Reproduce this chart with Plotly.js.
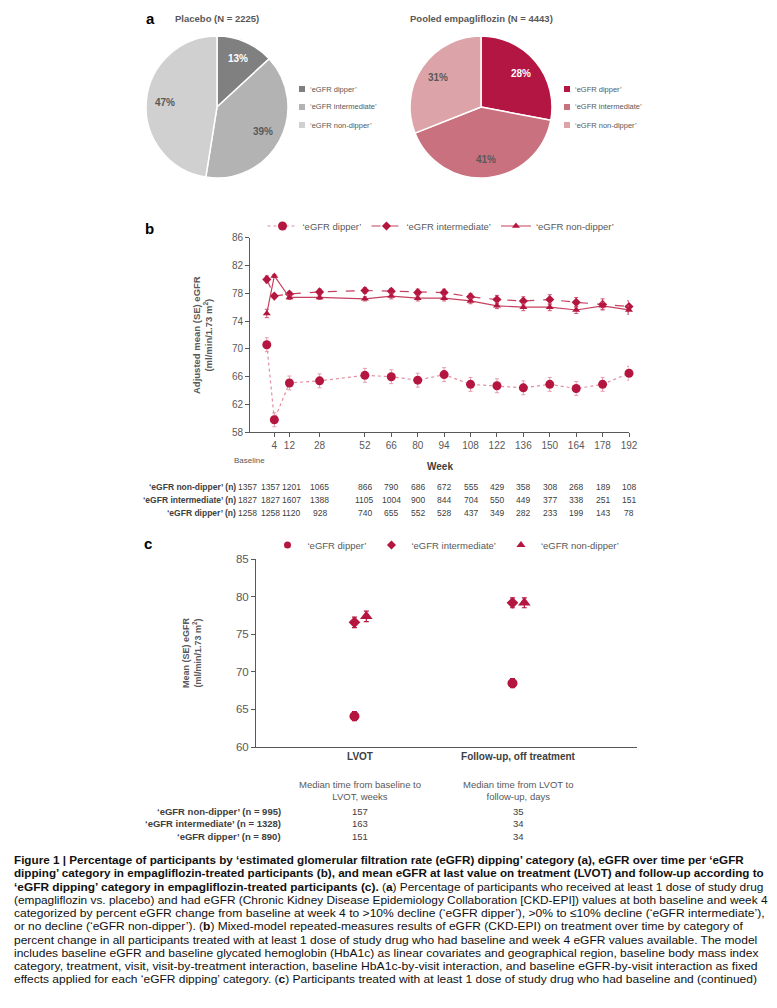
<!DOCTYPE html>
<html>
<head>
<meta charset="utf-8">
<script src="https://cdn.plot.ly/plotly-3.0.1.min.js"></script>
<style>
  html, body { margin: 0; padding: 0; background: #ffffff; }
  #chart { width: 777px; height: 1008px; }
</style>
</head>
<body>
<div id="chart"></div>
<script>
// ---------------- DATA ----------------
const pieLabels = ["‘eGFR dipper’", "‘eGFR intermediate’", "‘eGFR non-dipper’"];
const placeboPct = [13, 39, 47];
const empaPct = [28, 41, 31];
const placeboTitle = "Placebo (N = 2225)";
const empaTitle = "Pooled empagliflozin (N = 4443)";

const weeks = [0, 4, 12, 28, 52, 66, 80, 94, 108, 122, 136, 150, 164, 178, 192];
const weekTickLabels = ["4", "12", "28", "52", "66", "80", "94", "108", "122", "136", "150", "164", "178", "192"];
const dipperMean = [70.6, 59.8, 65.1, 65.4, 66.2, 66.0, 65.5, 66.3, 64.9, 64.7, 64.4, 64.9, 64.3, 64.9, 66.5];
const dipperSE   = [1.0, 1.0, 1.0, 1.0, 1.0, 1.0, 1.0, 1.0, 1.0, 1.0, 1.0, 1.0, 1.0, 1.0, 1.0];
const interMean  = [80.0, 77.6, 77.9, 78.2, 78.4, 78.3, 78.1, 78.1, 77.5, 77.1, 76.9, 77.1, 76.7, 76.4, 76.1];
const interSE    = [0.5, 0.2, 0.3, 0.4, 0.4, 0.4, 0.5, 0.5, 0.5, 0.6, 0.6, 0.7, 0.7, 0.8, 0.8];
const nonMean    = [75.1, 80.5, 77.4, 77.4, 77.2, 77.6, 77.3, 77.3, 76.9, 76.2, 76.0, 76.0, 75.6, 76.2, 75.6];
const nonSE      = [0.6, 0.2, 0.3, 0.3, 0.3, 0.4, 0.4, 0.4, 0.4, 0.4, 0.5, 0.5, 0.5, 0.5, 0.6];

const tableBRowLabels = ["‘eGFR non-dipper’ (n)", "‘eGFR intermediate’ (n)", "‘eGFR dipper’ (n)"];
const nonN   = [1357, 1357, 1201, 1065, 866, 790, 686, 672, 555, 429, 358, 308, 268, 189, 108];
const interN = [1827, 1827, 1607, 1388, 1105, 1004, 900, 844, 704, 550, 449, 377, 338, 251, 151];
const dipN   = [1258, 1258, 1120, 928, 740, 655, 552, 528, 437, 349, 282, 233, 199, 143, 78];

const cCategories = ["LVOT", "Follow-up, off treatment"];
const cDipper = [64.1, 68.5];
const cDipperSE = [0.6, 0.6];
const cInter = [76.6, 79.2];
const cInterSE = [0.7, 0.65];
const cNon = [77.4, 79.2];
const cNonSE = [0.7, 0.65];

const tableCHeaders = ["Median time from baseline to<br>LVOT, weeks", "Median time from LVOT to<br>follow-up, days"];
const tableCRowLabels = ["‘eGFR non-dipper’ (n = 995)", "‘eGFR intermediate’ (n = 1328)", "‘eGFR dipper’ (n = 890)"];
const weeksToLVOT = [157, 163, 151];
const daysToFollowUp = [35, 34, 34];

const captionLines = [
  "<b>Figure 1 | Percentage of participants by ‘estimated glomerular filtration rate (eGFR) dipping’ category (a), eGFR over time per ‘eGFR</b>",
  "<b>dipping’ category in empagliflozin-treated participants (b), and mean eGFR at last value on treatment (LVOT) and follow-up according to</b>",
  "<b>‘eGFR dipping’ category in empagliflozin-treated participants (c).</b> (<b>a</b>) Percentage of participants who received at least 1 dose of study drug",
  "(empagliflozin vs. placebo) and had eGFR (Chronic Kidney Disease Epidemiology Collaboration [CKD-EPI]) values at both baseline and week 4",
  "categorized by percent eGFR change from baseline at week 4 to &gt;10% decline (‘eGFR dipper’), &gt;0% to ≤10% decline (‘eGFR intermediate’),",
  "or no decline (‘eGFR non-dipper’). (<b>b</b>) Mixed-model repeated-measures results of eGFR (CKD-EPI) on treatment over time by category of",
  "percent change in all participants treated with at least 1 dose of study drug who had baseline and week 4 eGFR values available. The model",
  "includes baseline eGFR and baseline glycated hemoglobin (HbA1c) as linear covariates and geographical region, baseline body mass index",
  "category, treatment, visit, visit-by-treatment interaction, baseline HbA1c-by-visit interaction, and baseline eGFR-by-visit interaction as fixed",
  "effects applied for each ‘eGFR dipping’ category. (<b>c</b>) Participants treated with at least 1 dose of study drug who had baseline and (continued)"
];

// ---------------- STYLE ----------------
const W = 777, H = 1008;
const X = px => px / W;
const Y = py => 1 - py / H;
const FONT = "Liberation Sans, Arial, sans-serif";
const CAPFONT = "Liberation Sans, Arial, sans-serif";
const GREY = "#595959";
const DARK = "#404040";
const CRIMSON = "#b5163f";
const placeboColors = ["#808080", "#b3b3b3", "#d0d0d0"];
const empaColors = ["#b31642", "#c9717e", "#dca4a8"];
const pieTextColors = ["#ffffff", GREY, GREY];
const PIE_R = 71, PIE_CY = 107, PIE_LABEL_R = 0.74;
const captionWidths = [731, 750, 750, 754, 751, 730, 744, 745, 744, 744];
const tableBColShift = [-19, -4, 2, 0, 0, 0, 0, 0, 0, 0, 0, 0, 0, 0, 0];

// ---------------- TRACES ----------------
const traces = [];
function pieTrace(vals, colors, cx) {
  return {
    type: "pie", values: vals, labels: pieLabels,
    textinfo: "none",
    sort: false, direction: "clockwise", rotation: 0,
    marker: { colors: colors, line: { color: "#ffffff", width: 1.5 } },
    domain: { x: [X(cx - PIE_R), X(cx + PIE_R)], y: [Y(PIE_CY + PIE_R), Y(PIE_CY - PIE_R)] },
    showlegend: false, hoverinfo: "none"
  };
}
traces.push(pieTrace(placeboPct, placeboColors, 217));
traces.push(pieTrace(empaPct, empaColors, 481));

// Panel b
traces.push({
  type: "scatter", mode: "lines+markers", x: weeks, y: dipperMean, name: "‘eGFR dipper’",
  xaxis: "x", yaxis: "y", legend: "legend",
  line: { color: "#e08ea1", width: 1.2, dash: "dot" },
  marker: { color: CRIMSON, size: 9, symbol: "circle" },
  error_y: { type: "data", array: dipperSE, visible: true, color: "#e59cad", thickness: 1, width: 2 },
  cliponaxis: false
});
traces.push({
  type: "scatter", mode: "lines+markers", x: weeks, y: interMean, name: "‘eGFR intermediate’",
  xaxis: "x", yaxis: "y", legend: "legend",
  line: { color: "#c6405f", width: 1.2, dash: "dash" },
  marker: { color: CRIMSON, size: 7, symbol: "diamond" },
  error_y: { type: "data", array: interSE, visible: true, color: "#cc5571", thickness: 1, width: 2 },
  cliponaxis: false
});
traces.push({
  type: "scatter", mode: "lines+markers", x: weeks, y: nonMean, name: "‘eGFR non-dipper’",
  xaxis: "x", yaxis: "y", legend: "legend",
  line: { color: "#c6405f", width: 1.2, dash: "solid" },
  marker: { color: CRIMSON, size: 7, symbol: "triangle-up" },
  error_y: { type: "data", array: nonSE, visible: true, color: "#cc5571", thickness: 1, width: 2 },
  cliponaxis: false
});

// Panel c
const catPos = cCategories.map((c, i) => i + 1);
const offLeft = -0.035, offRight = 0.04;
const cSeries = [
  { name: "‘eGFR dipper’", y: cDipper, se: cDipperSE, off: offLeft, symbol: "circle", size: 10, lsize: 7 },
  { name: "‘eGFR intermediate’", y: cInter, se: cInterSE, off: offLeft, symbol: "diamond", size: 9, lsize: 7 },
  { name: "‘eGFR non-dipper’", y: cNon, se: cNonSE, off: offRight, symbol: "triangle-up", size: 11, lsize: 8 }
];
cSeries.forEach(s => {
  traces.push({
    type: "scatter", mode: "markers", x: catPos.map(p => p + s.off), y: s.y, name: s.name,
    xaxis: "x2", yaxis: "y2", showlegend: false,
    marker: { color: CRIMSON, size: s.size, symbol: s.symbol },
    error_y: { type: "data", array: s.se, visible: true, color: CRIMSON, thickness: 1.2, width: 2.5 }
  });
});
// legend keys for panel c (smaller symbols, as in the printed legend)
cSeries.forEach(s => {
  traces.push({
    type: "scatter", mode: "markers", x: [null], y: [null], name: s.name,
    xaxis: "x2", yaxis: "y2", legend: "legend2", showlegend: true,
    marker: { color: CRIMSON, size: s.lsize, symbol: s.symbol }
  });
});

// ---------------- ANNOTATIONS ----------------
const ann = [];
function txt(px, py, text, opts) {
  ann.push(Object.assign({
    xref: "paper", yref: "paper", x: X(px), y: Y(py), text: text, showarrow: false,
    xanchor: "center", yanchor: "middle",
    font: { family: FONT, size: 10, color: GREY }
  }, opts || {}));
  return ann.length - 1;
}
// panel letters
txt(150, 18, "<b>a</b>", { font: { family: FONT, size: 15, color: "#000" } });
txt(149, 229, "<b>b</b>", { font: { family: FONT, size: 15, color: "#000" } });
txt(148, 543, "<b>c</b>", { font: { family: FONT, size: 15, color: "#000" } });
// pie titles
txt(217, 18, "<b>" + placeboTitle + "</b>", { font: { family: FONT, size: 9.5, color: GREY } });
txt(481, 18, "<b>" + empaTitle + "</b>", { font: { family: FONT, size: 9.5, color: GREY } });

// pie percentage labels, placed at each slice's mid-angle (from the values)
function pieLabelsAt(vals, cx) {
  const total = vals.reduce((a, b) => a + b, 0);
  let cum = 0;
  vals.forEach((v, i) => {
    const mid = (cum + v / 2) / total * 2 * Math.PI;
    cum += v;
    const px = cx + Math.sin(mid) * PIE_R * PIE_LABEL_R;
    const py = PIE_CY - Math.cos(mid) * PIE_R * PIE_LABEL_R;
    txt(px, py, "<b>" + v + "%</b>", { font: { family: FONT, size: 10, color: pieTextColors[i] } });
  });
}
pieLabelsAt(placeboPct, 217);
pieLabelsAt(empaPct, 481);

// pie legends
const shapes = [];
const legendRowsY = [89, 107, 125];
function pieLegend(x0, colors) {
  pieLabels.forEach((lab, i) => {
    shapes.push({ type: "rect", xref: "paper", yref: "paper",
      x0: X(x0 - 3), x1: X(x0 + 3), y0: Y(legendRowsY[i] + 3), y1: Y(legendRowsY[i] - 3),
      fillcolor: colors[i], line: { width: 0 } });
    txt(x0 + 6, legendRowsY[i], lab, { xanchor: "left", font: { family: FONT, size: 7.5, color: GREY } });
  });
}
pieLegend(302, placeboColors);
pieLegend(567, empaColors);

// panel b axis titles
txt(203, 335, "<b>Adjusted mean (SE) eGFR<br>(ml/min/1.73 m<sup>2</sup>)</b>", { textangle: -90, font: { family: FONT, size: 9.5, color: GREY } });
txt(440, 466, "<b>Week</b>", { font: { family: FONT, size: 10, color: DARK } });
txt(249, 461, "Baseline", { font: { family: FONT, size: 8, color: GREY } });

// panel b table
const tableRowsY = [487, 500, 513];
const tableBData = [nonN, interN, dipN];
tableBRowLabels.forEach((lab, r) => {
  txt(238, tableRowsY[r], "<b>" + lab + "</b>", { xanchor: "right", font: { family: FONT, size: 8.5, color: DARK } });
  tableBData[r].forEach((v, i) => {
    ann.push({ xref: "x", yref: "paper", x: weeks[i], y: Y(tableRowsY[r]), text: String(v), showarrow: false,
      xanchor: "center", yanchor: "middle", xshift: tableBColShift[i],
      font: { family: FONT, size: 8.5, color: DARK } });
  });
});

// panel c axis title
txt(192, 653, "<b>Mean (SE) eGFR<br>(ml/min/1.73 m<sup>2</sup>)</b>", { textangle: -90, font: { family: FONT, size: 9, color: GREY } });

// panel c table
const headerX = [360, 518];
tableCHeaders.forEach((h, i) => txt(headerX[i], 790, h, { font: { family: FONT, size: 9.5, color: GREY } }));
const tableCRowsY = [811, 823, 836];
tableCRowLabels.forEach((lab, r) => {
  txt(283, tableCRowsY[r], "<b>" + lab + "</b>", { xanchor: "right", font: { family: FONT, size: 9.5, color: DARK } });
  txt(headerX[0], tableCRowsY[r], String(weeksToLVOT[r]), { font: { family: FONT, size: 9.5, color: DARK } });
  txt(headerX[1], tableCRowsY[r], String(daysToFollowUp[r]), { font: { family: FONT, size: 9.5, color: DARK } });
});

// caption
const captionIdx = captionLines.map((line, i) =>
  txt(13, 860 + i * 13.25, line, { xanchor: "left", align: "left", borderpad: 0,
    font: { family: CAPFONT, size: 11.8, color: "#111" } }));

// baseline tick (panel b)
shapes.push({ type: "line", xref: "x", yref: "y", x0: 0, x1: 0, ysizemode: "pixel", yanchor: 58, y0: 0, y1: -17,
  line: { color: GREY, width: 1 } });

// ---------------- LAYOUT ----------------
const layout = {
  width: W, height: H,
  margin: { l: 0, r: 0, t: 0, b: 0 },
  paper_bgcolor: "#ffffff", plot_bgcolor: "#ffffff",
  font: { family: FONT, color: GREY },
  showlegend: true,
  xaxis: {
    domain: [X(250), X(629)], range: [-8.9, 192], anchor: "y",
    tickvals: weeks.slice(1), ticktext: weekTickLabels,
    ticks: "outside", ticklen: 4, tickcolor: GREY, showline: true, linecolor: GREY, linewidth: 1,
    showgrid: false, zeroline: false, tickfont: { family: FONT, size: 10, color: GREY }
  },
  yaxis: {
    domain: [Y(432.3), Y(237.7)], range: [58, 86], anchor: "x",
    tickvals: [58, 62, 66, 70, 74, 78, 82, 86],
    ticks: "outside", ticklen: 4, tickcolor: GREY, showline: true, linecolor: GREY, linewidth: 1,
    showgrid: false, zeroline: false, tickfont: { family: FONT, size: 10, color: GREY }
  },
  xaxis2: {
    domain: [X(256), X(637)], range: [0.342, 2.753], anchor: "y2",
    tickvals: catPos, ticktext: cCategories.map(c => "<b>" + c + "</b>"),
    ticks: "", showline: true, linecolor: GREY, linewidth: 1,
    showgrid: false, zeroline: false, tickfont: { family: FONT, size: 10, color: DARK }
  },
  yaxis2: {
    domain: [Y(747), Y(559.3)], range: [60, 85], anchor: "x2", dtick: 5,
    ticks: "outside", ticklen: 4, tickcolor: GREY, showline: true, linecolor: GREY, linewidth: 1,
    showgrid: false, zeroline: false, tickfont: { family: FONT, size: 11.5, color: GREY }
  },
  legend: {
    orientation: "h", x: X(441), y: Y(226), xanchor: "center", yanchor: "middle",
    font: { family: FONT, size: 9.5, color: GREY }, itemwidth: 30, bgcolor: "rgba(0,0,0,0)",
    tracegroupgap: 0, itemclick: false
  },
  legend2: {
    orientation: "h", x: X(446), y: Y(545), xanchor: "center", yanchor: "middle",
    font: { family: FONT, size: 9.5, color: GREY }, itemwidth: 30, bgcolor: "rgba(0,0,0,0)",
    itemclick: false
  },
  annotations: ann,
  shapes: shapes
};

Plotly.newPlot("chart", traces, layout, { staticPlot: true, displayModeBar: false }).then(gd => {
  // fit each caption line to its measured width in the printed figure (condensed, justified look)
  captionIdx.forEach((idx, k) => {
    const t = gd.querySelector('.annotation[data-index="' + idx + '"] text.annotation-text');
    if (!t) return;
    const bb = t.getBBox();
    if (bb.width <= 0) return;
    const s = captionWidths[k] / bb.width;
    t.setAttribute("transform", "translate(" + (bb.x * (1 - s)) + ",0) scale(" + s + ",1)");
  });
});
</script>
</body>
</html>
